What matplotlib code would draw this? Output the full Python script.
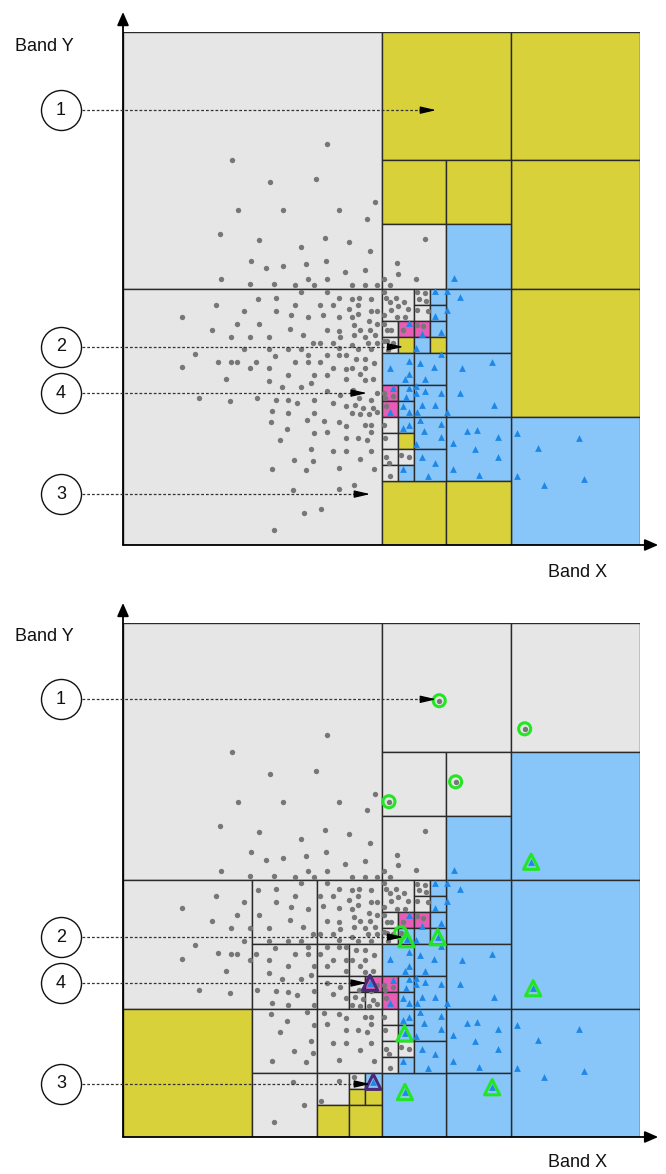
import matplotlib
matplotlib.use("Agg")
import matplotlib.pyplot as plt
from matplotlib.patches import Rectangle

plt.rcParams['font.family'] = ['Liberation Sans', 'DejaVu Sans']

# ---------------- data (band values 0..256) ----------------
gray_x = [101, 54, 73, 95.5, 125, 57, 79, 107, 120.6, 48, 67.5, 100, 112, 88, 122.4, 63.5, 70.8, 79, 90.6, 100.3,
          110, 120, 48.7, 63, 74.8, 85, 91.4, 94.4, 100.8, 113.4, 120, 126, 129.2,
          88, 100.8, 129, 67, 75.6, 107, 113.4, 116.7, 122.8, 130, 45.9, 85, 97.5, 103.8, 116.5, 29, 60, 75.6, 111.7,
          122.8, 126, 83, 91.4, 98.8, 106.8, 113.4, 116.5, 129.4, 44, 56.6, 67.3, 82.8, 100.8, 107, 114.5, 117.3,
          121.8, 122.4, 126,
          53.3, 62.9, 72.4, 89, 107.6, 114.5, 119.6, 124.8,
          94.2, 97.7, 103.8, 113.5, 121.3, 126, 129.4,
          35.8, 60, 72.4, 81.8, 88, 107, 116.5, 122.6, 131,
          75.2, 91.4, 100.8, 107, 110.2, 115.3, 119.8,
          29, 47.2, 53.3, 56.6, 66, 85, 91.4, 97.7, 124.4,
          62.9, 72.4, 104, 110.2, 113.5, 119.6,
          81.8, 94.4, 100.8, 117.3, 124,
          51, 72.4, 93, 110.2, 120,
          78.7, 88, 100.8, 114, 107.3, 116.7, 126, 129.4,
          37.6, 52.8, 66.3, 75.6, 81.8, 86.3, 94.4, 104, 122.8, 129.7, 130,
          110.2, 115, 119, 124, 74, 81.8, 94.4, 113.5, 117.3, 121.8, 126,
          73.3, 91.2, 99.7, 107, 110.2, 119.6, 122.8, 129.4,
          81, 94.4, 100.8, 122.8,
          77.7, 110.2, 116.5, 120.8, 129.7,
          92.9, 103.8, 110.2, 122.8,
          84.7, 94, 117.3, 130.2, 131.8,
          74, 90.4, 106.8, 124.4, 132.2,
          84.2, 106.8, 114.5,
          89.5, 97.9, 74.6,
          149.5, 135.5, 136.3, 144.9, 132.3, 135.1, 132.3, 145.5, 149.5, 146.4, 149.9, 139.3, 136.3, 141, 132.5,
          135.5, 139.5, 145.4, 151, 129.2, 130.5, 132.5, 138.8, 145.4, 148.7, 130.5, 133.8,
          133.8, 137.5, 141.7]
gray_y = [200, 192, 181, 182.5, 171, 167, 167, 167, 162.7, 155, 152, 153, 151, 148.5, 146.5, 141.7, 138, 139, 140, 141.9,
          136, 137.4, 132.6, 130, 130, 129.6, 132.7, 129.6, 132.7, 129.6, 129.6, 129.6, 132.7,
          126.4, 126.4, 126.4, 123, 123.3, 123.3, 123, 123.3, 123, 123.4, 120, 120, 120, 120, 120, 114, 117, 117, 118,
          117, 117, 114.8, 113.6, 115, 114, 113.6, 115.4, 114.6, 107.4, 110.4, 110.4, 108, 107.4, 107, 109.6, 107.4,
          111.6, 107.4, 110.4,
          104, 104, 104, 104.6, 103.6, 104.6, 104, 104.6,
          101, 101, 101, 99.8, 101, 101, 102,
          95.5, 97.8, 97.8, 97.8, 97.8, 98.2, 97.8, 97.8, 97.5,
          94.3, 94.7, 94.7, 94.7, 94.7, 93, 93,
          88.8, 91.5, 91.3, 91.3, 91.3, 91.3, 91.3, 91.3, 90.7,
          88.3, 88.3, 88.3, 88, 88.3, 88.3,
          85, 85, 85, 85.3, 82.8,
          82.8, 81.8, 80.7, 82.8, 82.3,
          78.7, 78.7, 76.7, 77.3, 74.7, 73.2, 75.7, 75.7,
          73.2, 71.7, 73.2, 72.5, 72.2, 70.9, 72.5, 71, 72.5, 73.2, 69.4,
          69.2, 69.7, 68.5, 68.4, 66.9, 65.9, 65.9, 65.9, 65.4, 65.4, 66.2,
          61.2, 62.2, 61.9, 61.2, 59.5, 59.7, 59.7, 59.9,
          57.9, 55.7, 56.4, 56.5,
          52.2, 53.4, 53.4, 52.2, 53.4,
          47.9, 46.9, 46.9, 46.9,
          42.6, 41.8, 43.1, 43.9, 41.1,
          37.8, 37.3, 38.4, 37.8, 34.6,
          27.4, 27.9, 29.9,
          15.8, 18.1, 7.6,
          152.5, 140.6, 135.4, 132.9, 129.6, 123.4, 121.4, 126.1, 125.7, 122.8, 121.8, 121.4, 119.3, 117.6, 117.3,
          113.6, 113.6, 117.3, 116.8, 110.4, 107.3, 107.3, 107.3, 109.9, 109.3, 101.8, 101,
          74.5, 44.9, 43.8]

blue_x = [163.9, 154.5, 160.5, 166.8, 154.5, 160.5, 141.6, 157.3, 148, 144.9, 157.3, 141.6, 147, 182.5,
          132.2, 154.1, 168, 141.6, 139.8, 149.5, 133.5, 141.7, 144.9, 144.9, 149.5, 157.3, 166.8, 140.1, 138.8,
          141.7, 145.4, 148, 154.3, 160.5, 183.5, 132.2, 147.2, 141.6, 138.5, 157.3, 148.9, 157.3, 144.9, 170.1,
          175.4, 185.6, 194.9, 163.5, 174.1, 185.6, 148, 154.6, 138.5, 163.5, 151.1, 176.4, 195.2,
          225.9, 205.3, 208.3, 228.4]
blue_y = [133.2, 126.6, 126.6, 123.6, 114.3, 117.3, 110.6, 106.4, 105.1, 98.3, 95.2, 92, 90.7, 91.2,
          88.5, 88.7, 88.2, 85.3, 82.7, 82.7, 78.2, 78.5, 79.3, 76, 77, 76, 76, 74, 69.4,
          66.5, 66.5, 69.7, 69.7, 66.5, 69.9, 66.5, 62.4, 60, 58.4, 60.4, 57, 53.7, 50.5, 57,
          57.4, 53.7, 56, 50.7, 48, 44, 44, 41.1, 37.9, 37.8, 34.6, 34.8, 34.4,
          53.6, 48.5, 29.9, 32.9]

# new samples shown only in the second panel
green_circle_x = [156.6, 198.9, 164.7, 131.7, 137.5]
green_circle_y = [217.3, 203.3, 176.9, 167.0, 101.7]
green_tri_x = [140.4, 155.8, 139.4, 139.6, 182.8, 203.1, 202.1]
green_tri_y = [98.5, 99.5, 51.6, 22.4, 24.8, 74.1, 137.1]
purple_tri_x = [122.3, 123.9]
purple_tri_y = [76.8, 27.5]

# numbered arrows: label, target x, target y
arrow_labels = ['1', '2', '4', '3']
arrow_tx = [156.6, 140.4, 122.3, 123.9]
arrow_ty_top = [217.0, 98.9, 75.8, 25.4]
arrow_ty_bottom = [218.0, 99.6, 76.7, 26.4]

# partition cells: (x0, y0, width, height, class)
top_cells = [
    (0, 128, 128, 128, 'G'), (0, 0, 128, 128, 'G'),
    (128, 192, 64, 64, 'Y'), (192, 192, 64, 64, 'Y'), (192, 128, 64, 64, 'Y'),
    (128, 160, 32, 32, 'Y'), (160, 160, 32, 32, 'Y'), (128, 128, 32, 32, 'G'), (160, 128, 32, 32, 'B'),
    (192, 64, 64, 64, 'Y'), (192, 0, 64, 64, 'B'),
    (160, 96, 32, 32, 'B'), (160, 64, 32, 32, 'B'), (160, 32, 32, 32, 'B'),
    (128, 0, 32, 32, 'Y'), (160, 0, 32, 32, 'Y'),
    (128, 112, 16, 16, 'G'), (144, 120, 8, 8, 'G'), (144, 112, 8, 8, 'G'), (152, 120, 8, 8, 'B'), (152, 112, 8, 8, 'B'),
    (128, 104, 8, 8, 'G'), (136, 104, 8, 8, 'P'), (144, 104, 8, 8, 'P'), (152, 104, 8, 8, 'B'),
    (128, 96, 8, 8, 'G'), (136, 96, 8, 8, 'Y'), (144, 96, 8, 8, 'B'), (152, 96, 8, 8, 'Y'),
    (128, 80, 16, 16, 'B'), (144, 80, 16, 16, 'B'), (128, 72, 8, 8, 'P'), (128, 64, 8, 8, 'P'),
    (136, 72, 8, 8, 'B'), (136, 64, 8, 8, 'B'), (144, 64, 16, 16, 'B'),
    (128, 56, 8, 8, 'G'), (128, 48, 8, 8, 'G'), (128, 40, 8, 8, 'G'), (128, 32, 8, 8, 'G'),
    (136, 56, 8, 8, 'B'), (136, 48, 8, 8, 'Y'), (136, 40, 8, 8, 'G'), (136, 32, 8, 8, 'B'),
    (144, 48, 16, 16, 'B'), (144, 32, 16, 16, 'B'),
]
bottom_cells = [
    (0, 128, 128, 128, 'G'), (0, 64, 64, 64, 'G'), (0, 0, 64, 64, 'Y'),
    (64, 96, 32, 32, 'G'), (96, 96, 32, 32, 'G'), (64, 64, 32, 32, 'G'),
    (96, 80, 16, 16, 'G'), (112, 80, 16, 16, 'G'), (96, 64, 16, 16, 'G'),
    (112, 72, 8, 8, 'G'), (120, 72, 8, 8, 'P'), (112, 64, 8, 8, 'G'), (120, 64, 8, 8, 'G'),
    (64, 32, 32, 32, 'G'), (96, 32, 32, 32, 'G'), (64, 0, 32, 32, 'G'),
    (96, 16, 16, 16, 'G'), (96, 0, 16, 16, 'Y'),
    (112, 24, 8, 8, 'G'), (120, 24, 8, 8, 'B'), (112, 16, 8, 8, 'Y'), (120, 16, 8, 8, 'Y'), (112, 0, 16, 16, 'Y'),
    (128, 192, 64, 64, 'G'), (192, 192, 64, 64, 'G'), (128, 160, 32, 32, 'G'), (160, 160, 32, 32, 'G'),
    (128, 128, 32, 32, 'G'), (160, 128, 32, 32, 'B'), (192, 128, 64, 64, 'B'),
    (192, 64, 64, 64, 'B'), (192, 0, 64, 64, 'B'),
    (160, 96, 32, 32, 'B'), (160, 64, 32, 32, 'B'), (160, 32, 32, 32, 'B'), (160, 0, 32, 32, 'B'), (128, 0, 32, 32, 'B'),
    (128, 112, 16, 16, 'G'), (144, 120, 8, 8, 'G'), (144, 112, 8, 8, 'G'), (152, 120, 8, 8, 'B'), (152, 112, 8, 8, 'B'),
    (128, 104, 8, 8, 'G'), (136, 104, 8, 8, 'P'), (144, 104, 8, 8, 'P'), (152, 104, 8, 8, 'B'),
    (128, 96, 8, 8, 'G'), (136, 96, 8, 8, 'B'), (144, 96, 8, 8, 'B'), (152, 96, 8, 8, 'B'),
    (128, 80, 16, 16, 'B'), (144, 80, 16, 16, 'B'), (128, 72, 8, 8, 'P'), (128, 64, 8, 8, 'P'),
    (136, 72, 8, 8, 'B'), (136, 64, 8, 8, 'B'), (144, 64, 16, 16, 'B'),
    (128, 56, 8, 8, 'G'), (128, 48, 8, 8, 'G'), (128, 40, 8, 8, 'G'), (128, 32, 8, 8, 'G'),
    (136, 56, 8, 8, 'B'), (136, 48, 8, 8, 'B'), (136, 40, 8, 8, 'G'), (136, 32, 8, 8, 'B'),
    (144, 48, 16, 16, 'B'), (144, 32, 16, 16, 'B'),
]

cell_colors = {'G': '#e6e6e6', 'Y': '#d9d13a', 'B': '#88c6fa', 'P': '#e65cb7'}

# ---------------- drawing ----------------
fig = plt.figure(figsize=(6.66, 11.74), dpi=100)
ax_top = fig.add_axes([123 / 666, 629 / 1174, 517 / 666, 513 / 1174])
ax_bot = fig.add_axes([123 / 666, 37 / 1174, 517 / 666, 514 / 1174])


def draw_panel(ax, cells, arrow_ty, highlight):
    ax.set_xlim(0, 256)
    ax.set_ylim(0, 256)
    ax.axis('off')
    for (x0, y0, w, h, c) in cells:
        ax.add_patch(Rectangle((x0, y0), w, h, facecolor=cell_colors[c],
                               edgecolor='#2a2a2a', lw=1.0, zorder=1))
    ax.scatter(gray_x, gray_y, s=15, color='#777777', linewidths=0, zorder=3)
    ax.scatter(blue_x, blue_y, s=24, marker='^', color='#1e88e8', linewidths=0, zorder=3)
    if highlight:
        ax.scatter(green_circle_x, green_circle_y, s=15, color='#777777', linewidths=0, zorder=4)
        ax.scatter(green_circle_x, green_circle_y, s=75, facecolors='none',
                   edgecolors='#22e622', linewidths=2.2, zorder=5)
        ax.scatter(green_tri_x, green_tri_y, s=24, marker='^', color='#1e88e8', linewidths=0, zorder=4)
        ax.scatter(green_tri_x, green_tri_y, s=120, marker='^', facecolors='none',
                   edgecolors='#22e622', linewidths=2.2, zorder=5)
        ax.scatter(purple_tri_x, purple_tri_y, s=24, marker='^', color='#1e88e8', linewidths=0, zorder=4)
        ax.scatter(purple_tri_x, purple_tri_y, s=120, marker='^', facecolors='none',
                   edgecolors='#4a2a78', linewidths=2.2, zorder=5)
    # axes arrows
    ax.annotate('', xy=(0, 266), xytext=(0, 0), xycoords='data',
                arrowprops=dict(arrowstyle='-|>,head_length=0.8,head_width=0.35', color='black',
                                lw=1.3, mutation_scale=10, shrinkA=0, shrinkB=0),
                annotation_clip=False, zorder=6)
    ax.annotate('', xy=(265, 0), xytext=(0, 0), xycoords='data',
                arrowprops=dict(arrowstyle='-|>,head_length=0.8,head_width=0.35', color='black',
                                lw=1.3, mutation_scale=10, shrinkA=0, shrinkB=0),
                annotation_clip=False, zorder=6)
    # numbered arrows
    for lab, tx, ty in zip(arrow_labels, arrow_tx, arrow_ty):
        tip = tx - 1.5
        ax.plot([-20.5, tip - 4], [ty, ty], color='#333333', lw=0.9, ls=(0, (2.2, 1.6)),
                clip_on=False, zorder=6)
        ax.annotate('', xy=(tip, ty), xytext=(tip - 8, ty), xycoords='data',
                    arrowprops=dict(arrowstyle='-|>,head_length=0.95,head_width=0.22', color='black',
                                    lw=0.9, mutation_scale=10, shrinkA=0, shrinkB=0),
                    annotation_clip=False, zorder=7)
        ax.scatter([-30.7], [ty], s=830, facecolors='white', edgecolors='#111111',
                   linewidths=1.0, clip_on=False, zorder=6)
        ax.text(-30.7, ty, lab, ha='center', va='center', fontsize=13, color='#111111', zorder=7)


draw_panel(ax_top, top_cells, arrow_ty_top, False)
draw_panel(ax_bot, bottom_cells, arrow_ty_bottom, True)

ax_top.text(-53.5, 249, 'Band Y', ha='left', va='center', fontsize=13, color='#111111')
ax_top.text(225, -13.5, 'Band X', ha='center', va='center', fontsize=13, color='#111111')
ax_bot.text(-53.5, 249.5, 'Band Y', ha='left', va='center', fontsize=13, color='#111111')
ax_bot.text(225, -12.5, 'Band X', ha='center', va='center', fontsize=13, color='#111111')

fig.savefig('out.png', dpi=100)
